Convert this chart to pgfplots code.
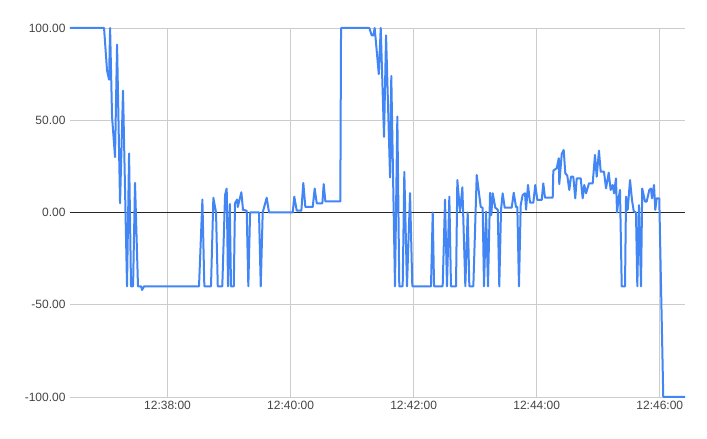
\documentclass[border=0pt]{standalone}
\usepackage{fontspec}
\setmainfont{Liberation Sans}
\usepackage{pgfplots}
\pgfplotsset{compat=1.18}
\definecolor{series}{HTML}{4285F4}
\definecolor{gridc}{HTML}{CCCCCC}
\definecolor{labc}{HTML}{444444}
\begin{document}
\begin{tikzpicture}
\begin{axis}[
  scale only axis,
  width=615pt, height=369pt,
  xmin=24.9, xmax=624.6,
  ymin=-100, ymax=100,
  axis line style={draw=none},
  grid=major,
  major grid style={gridc, line width=0.8pt},
  xtick={120,240,360,480,600},
  xticklabels={12:38:00,12:40:00,12:42:00,12:44:00,12:46:00},
  ytick={-100,-50,0,50,100},
  yticklabel style={/pgf/number format/fixed,/pgf/number format/fixed zerofill,/pgf/number format/precision=2},
  /pgf/number format/assume math mode=true,
  tick label style={font=\fontsize{12}{14}\selectfont, text=labc},
  xticklabel style={yshift=-1pt},
  yticklabel style={xshift=-1pt},
  tick style={draw=none},
  clip=false,
]
\addplot[black!85, line width=0.8pt, forget plot] coordinates {(24.9,0) (624.6,0)};
\addplot[series, line width=2pt, line join=round] coordinates {
(24.9,100) (58.1,100) (61.0,77) (63.0,72) (64.0,100) (65.9,52) (68.8,30) (70.8,91)
(73.7,5) (76.6,66) (80.5,-40) (82.5,32) (84.4,-40) (86.4,-40) (88.3,16) (91.2,-40)
(94.2,-40) (95.2,-42) (97.1,-40) (150.7,-40) (154.0,7) (155.9,-40) (162.4,-40)
(164.7,8) (167.3,0) (169.0,-40) (173.4,-40) (176.1,9.5) (177.7,13) (179.0,-40)
(180.7,4.6) (181.9,-40) (184.6,-40) (185.8,5) (187.8,7) (188.5,3) (192.0,11)
(193.6,1.4) (197.2,1) (198.8,-40) (200.5,0) (209.2,0) (210.9,-40) (212.8,0)
(216.7,8) (219.0,0) (242.1,0) (243.6,8.6) (246.0,1) (250.5,1) (252.4,16) (254.4,3)
(261.6,3) (263.5,13) (265.5,5) (271.0,5) (272.3,15.4) (273.9,6) (288.5,6)
(289.2,100) (316.8,100) (319.1,96) (320.7,96) (322.0,100) (326.0,75) (327.9,100)
(331.1,41) (333.1,96) (337.0,19) (338.2,74) (341.8,-40) (344.1,52) (346.0,-40)
(349.3,-40) (350.9,22) (353.5,-40) (356.5,10.5) (358.7,-40) (376.9,-40) (378.6,0)
(379.9,-40) (388.3,-40) (390.6,7) (392.5,-40) (394.8,8.6) (396.4,-40) (401.3,-40)
(402.6,17.6) (405.2,0.5) (407.5,13.7) (410.4,-40) (412.7,0) (414.3,-40) (418.2,-40)
(421.5,20.3) (425.4,3.1) (427.3,2.5) (428.6,-40) (430.6,0.5) (432.5,-40) (434.5,10.7)
(435.7,-1.4) (437.1,10.4) (439.6,2.6) (442.0,1.5) (443.5,-40) (445.2,1.5) (446.8,10.4)
(448.8,2.6) (455.6,2.6) (457.6,10.7) (459.8,3) (461.1,3) (462.7,-40) (464.4,4)
(466.3,9.5) (468.6,10.4) (469.6,1.5) (471.5,14.9) (473.5,5.3) (476.7,5.3) (478.6,14.9)
(480.6,6.8) (484.9,6.8) (486.4,15.8) (488.1,8) (495.6,8) (496.2,22.7) (499.5,24)
(501.5,29.4) (502.0,15.4) (504.4,31.7) (506.3,33.9) (507.9,21.2) (509.8,20) (511.8,12.2)
(513.4,19.4) (515.7,19.4) (517.6,7.7) (519.0,18.5) (522.9,18.5) (524.8,7.7) (526.4,14.9)
(528.1,10.4) (531.0,15.8) (534.6,15.8) (536.8,31.2) (538.5,19.4) (540.7,33.5) (542.4,22.1)
(545.6,22.1) (547.6,13.1) (550.2,21.6) (552.1,12.2) (554.1,14.9) (555.4,10.4) (557.3,18.5)
(558.3,0) (559.9,7.7) (561.2,12.2) (562.9,-40) (566.1,-40) (567.1,8.6) (568.7,1.4)
(571.0,17.6) (572.9,6.8) (574.6,0.7) (576.8,0) (578.1,-40) (579.7,4) (581.7,-40)
(582.9,13) (585.6,5.9) (587.2,5.9) (589.8,12.2) (591.4,13) (592.4,7.7) (594.4,14.9)
(595.6,1.4) (597.0,7.7) (599.5,7.7) (603.4,-100) (624.6,-100)
};
\end{axis}
\pgfresetboundingbox
\path[use as bounding box] ([xshift=-70pt,yshift=-42pt]current axis.south west) rectangle ([xshift=22pt,yshift=28pt]current axis.north east);
\end{tikzpicture}
\end{document}
